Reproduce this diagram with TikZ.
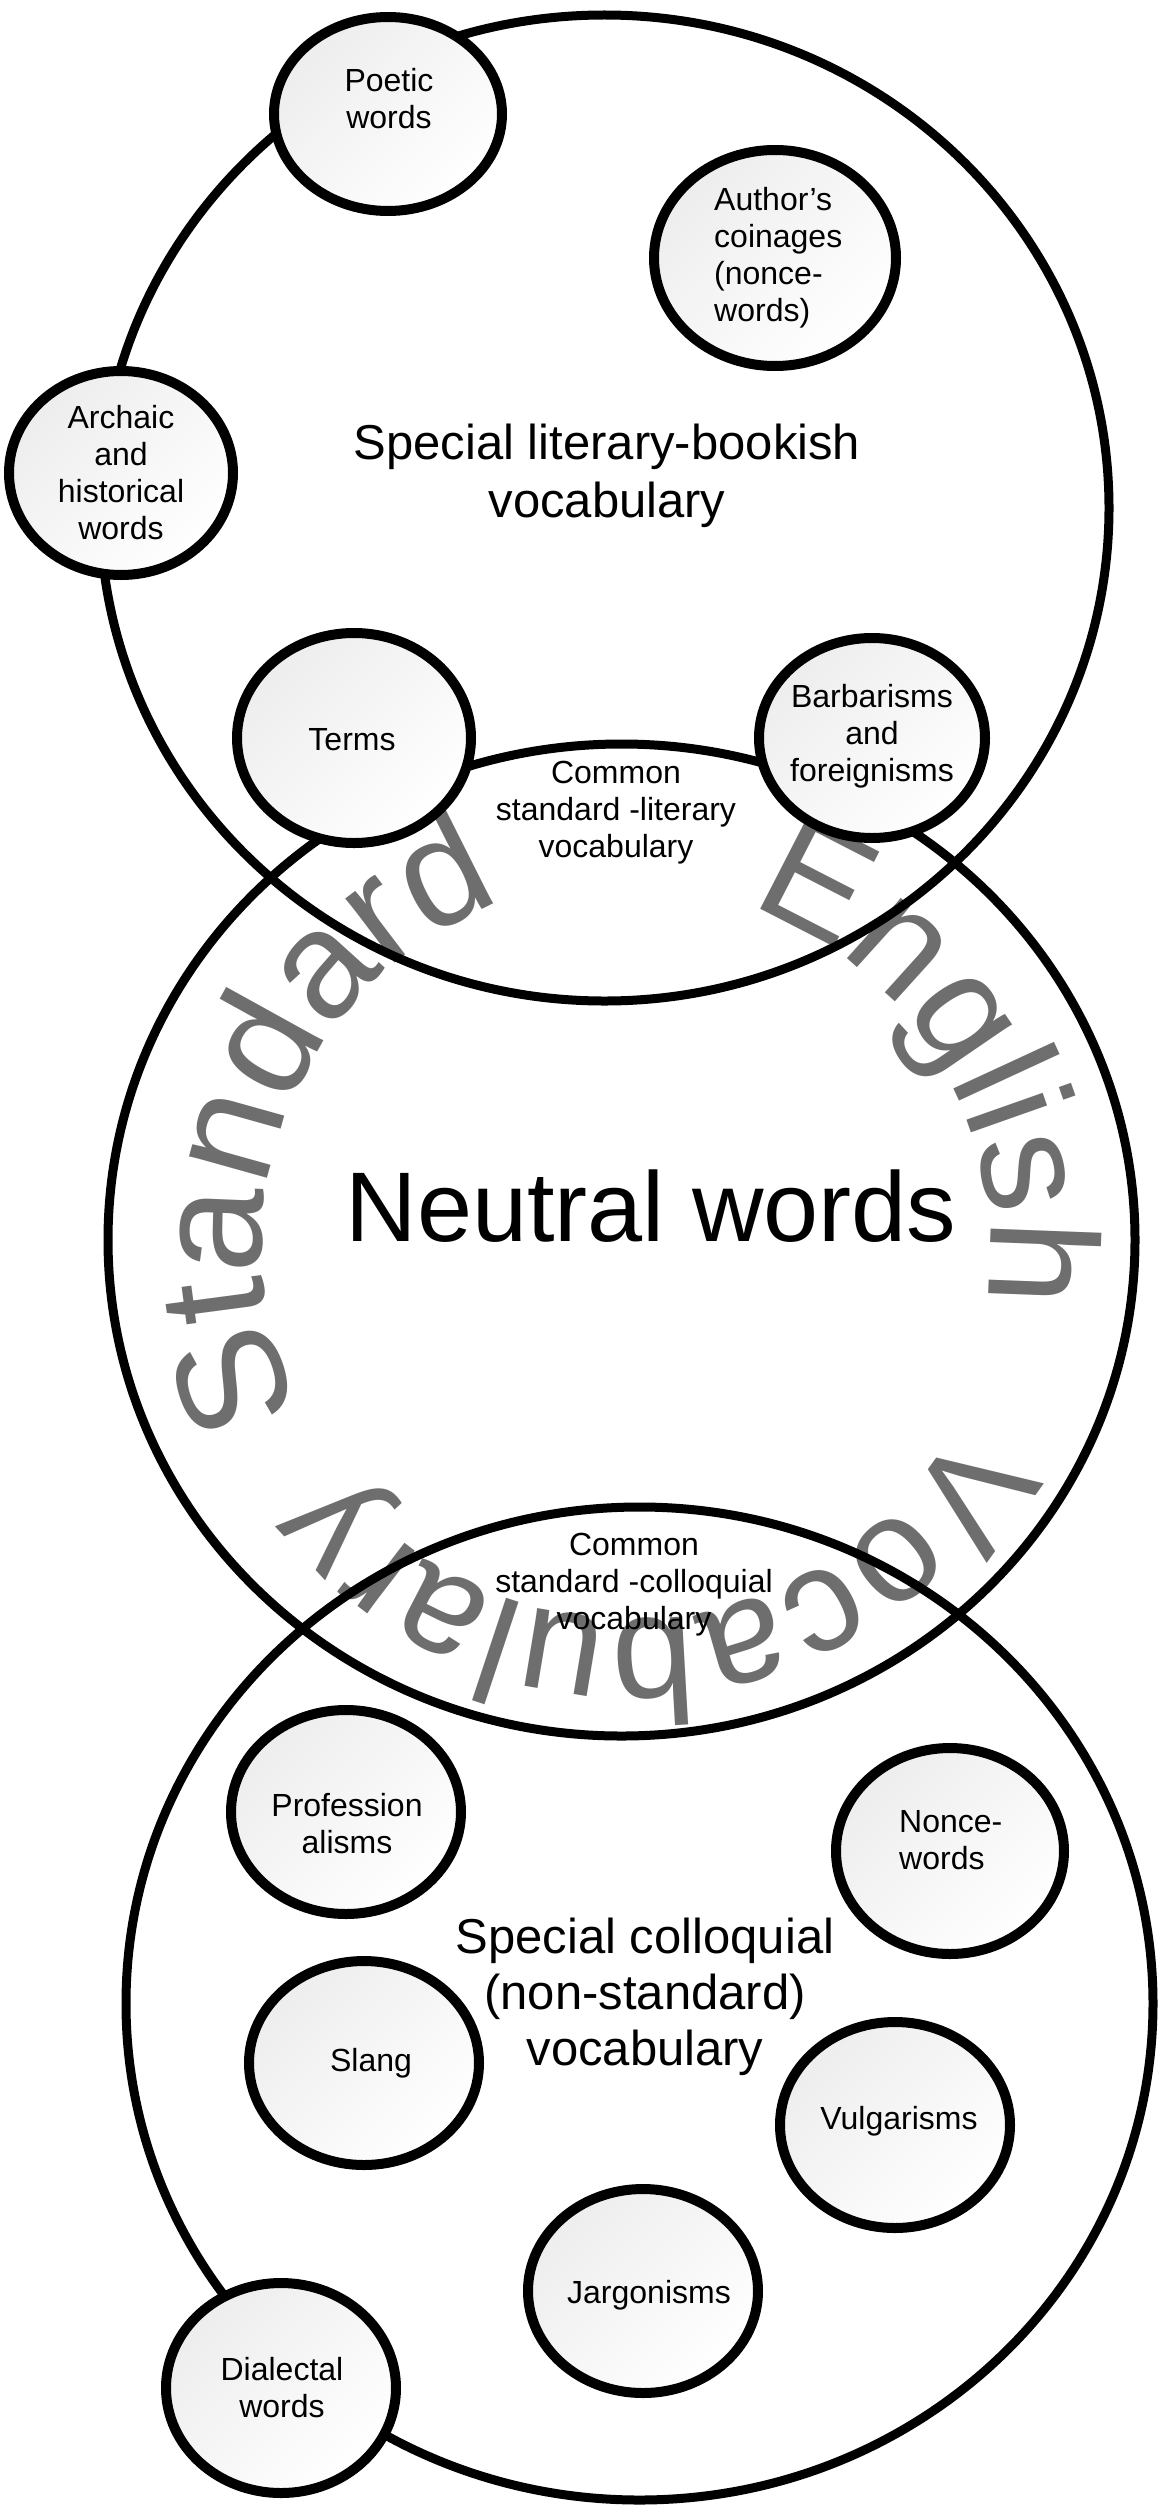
\documentclass[tikz,border=0pt]{standalone}
\usepackage{fontspec}
\setmainfont{Liberation Sans}
\usetikzlibrary{shapes.geometric,decorations.text}
\definecolor{txtgray}{RGB}{110,110,110}
\newcommand\curvefont{\fontsize{153}{153}\selectfont}
\newcommand\curvefontb{\fontsize{149}{149}\selectfont}
\begin{document}
\begin{tikzpicture}[x=1pt,y=1pt,
  bigcirc/.style={ellipse, draw=black, line width=9pt, inner sep=0pt},
  blob/.style={ellipse, draw=black, line width=10pt, left color=black!7, right color=white, shading angle=45, inner sep=0pt},
  smalltxt/.style={font=\fontsize{32}{37}\selectfont, align=center, inner sep=0pt},
  midtxt/.style={font=\fontsize{49}{58}\selectfont, align=center, inner sep=0pt},
  bigtxt/.style={font=\fontsize{99}{110}\selectfont, inner sep=0pt},
  curved/.style={decorate, decoration={text along path, text align=center, text color=txtgray}}
]
\fill[white] (0,0) rectangle (1163,-2510);
\useasboundingbox (0,0) rectangle (1163,-2510);

% curved grey text
\path[curved, shift={(630,-1247)}, decoration={text={|\curvefont|Standard}}] (233.4:368) arc[start angle=233.4, end angle=83.4, radius=368];
\path[curved, shift={(630,-1247)}, decoration={text={|\curvefont|English}}] (106:360) arc[start angle=106, end angle=-44, radius=360];
\path[curved, shift={(630,-1247)}, decoration={text={|\curvefontb|Vocabulary}}] (-7.4:372) arc[start angle=-7.4, end angle=-163.4, radius=372];

% big circles
\node[bigcirc, minimum width=1009, minimum height=986] (lit) at (604.5,-508) {};
\node[bigcirc, minimum width=1027, minimum height=992] (neu) at (621.5,-1240) {};
\node[bigcirc, minimum width=1027, minimum height=993] (col) at (639.5,-2003.5) {};

% small ellipses
\node[blob, minimum width=228, minimum height=194] (poetic) at (388,-114) {};
\node[blob, minimum width=242, minimum height=216] (author) at (775,-258) {};
\node[blob, minimum width=224, minimum height=204] (archaic) at (121,-473) {};
\node[blob, minimum width=234, minimum height=210] (terms) at (354,-738) {};
\node[blob, minimum width=226, minimum height=200] (barb) at (872,-738) {};
\node[blob, minimum width=230, minimum height=204] (prof) at (346,-1812) {};
\node[blob, minimum width=228, minimum height=206] (nonce) at (950,-1851) {};
\node[blob, minimum width=230, minimum height=204] (slang) at (364,-2063) {};
\node[blob, minimum width=230, minimum height=206] (vulg) at (895,-2125) {};
\node[blob, minimum width=230, minimum height=204] (jarg) at (643,-2291) {};
\node[blob, minimum width=230, minimum height=210] (dial) at (281,-2388) {};

% texts
\node[midtxt] (litT) at (607,-476) {Special literary-bookish\\vocabulary};
\node[bigtxt] (neuT) at (651,-1206) {Neutral words};
\node[midtxt, font=\fontsize{49}{56}\selectfont] (colT) at (645,-1997) {Special colloquial\\(non-standard)\\vocabulary};
\node[smalltxt] (lensA) at (616,-813) {Common\\standard -literary\\vocabulary};
\node[smalltxt] (lensB) at (634,-1585) {Common\\standard -colloquial\\vocabulary};

\node[smalltxt] (poeticT) at (389,-99) {Poetic\\words};
\node[smalltxt, align=left, anchor=west] (authorT) at (714,-258) {Author’s\\coinages\\(nonce-\\words)};
\node[smalltxt] (archaicT) at (121,-473) {Archaic\\and\\historical\\words};
\node[smalltxt] (termsT) at (352,-740) {Terms};
\node[smalltxt] (barbT) at (872,-736) {Barbarisms\\and\\foreignisms};
\node[smalltxt] (profT) at (347,-1824) {Profession\\alisms};
\node[smalltxt, align=left, anchor=west] (nonceT) at (899,-1840) {Nonce-\\words};
\node[smalltxt] (slangT) at (371,-2063) {Slang};
\node[smalltxt] (vulgT) at (899,-2121) {Vulgarisms};
\node[smalltxt] (jargT) at (649,-2295) {Jargonisms};
\node[smalltxt] (dialT) at (282,-2388) {Dialectal\\words};
\end{tikzpicture}
\end{document}
